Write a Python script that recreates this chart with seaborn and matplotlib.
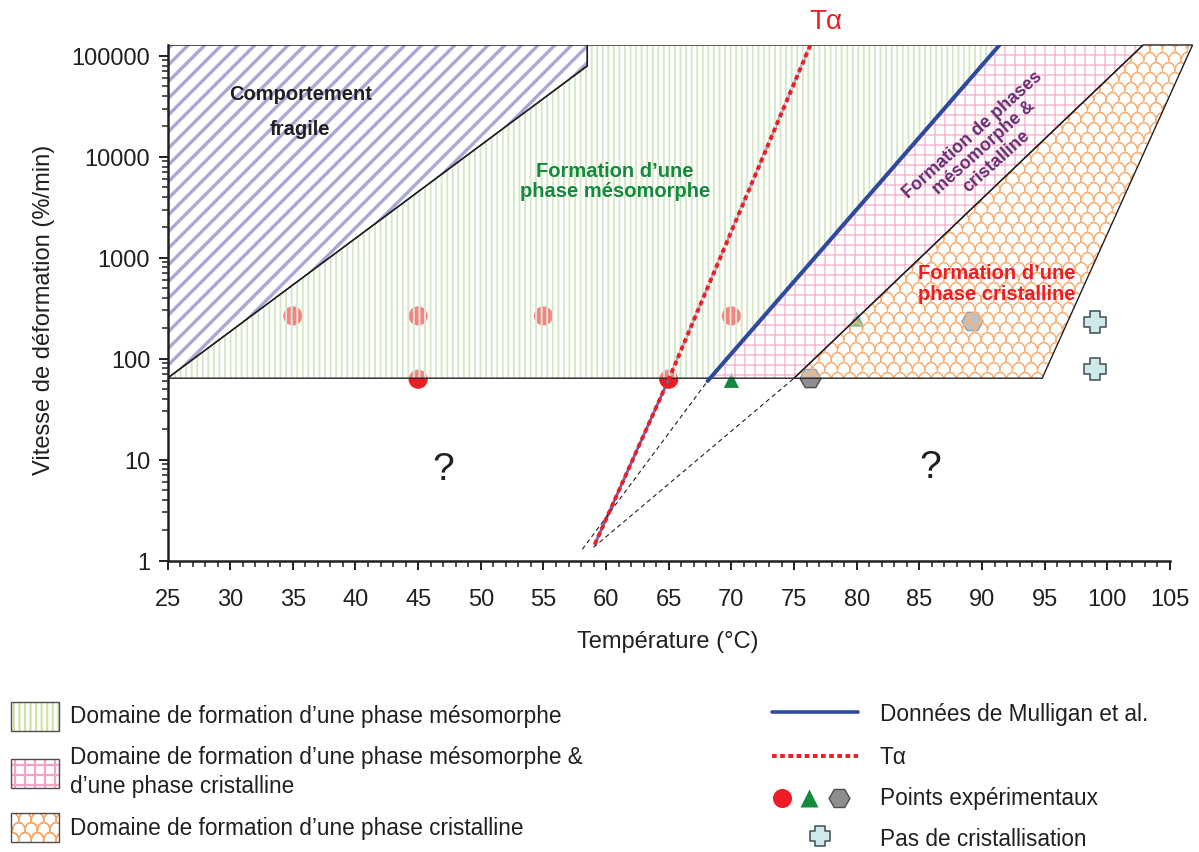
import warnings

import numpy as np
import pandas as pd
import matplotlib
matplotlib.use("Agg")
import matplotlib.pyplot as plt
import matplotlib.hatch as mhatch
from matplotlib.path import Path
from matplotlib.patches import Polygon
from matplotlib.lines import Line2D
from matplotlib.ticker import MultipleLocator, FixedLocator, FixedFormatter, LogLocator, NullFormatter
import seaborn as sns

warnings.filterwarnings("ignore", category=matplotlib.MatplotlibDeprecationWarning)

# ---------------------------------------------------------------- data
T_LIMITS = [25, 105]
RATE_LIMITS = [1, 1.28e5]
X_TICKS = list(range(25, 106, 5))
Y_TICKS = [1, 10, 100, 1000, 10000, 100000]
Y_TICK_LABELS = ["1", "10", "100", "1000", "10000", "100000"]

RATE_FLOOR = 64          # lower limit of the explored domains
RATE_CEIL = 1.28e5       # upper limit of the explored domains

BRITTLE_T = [25.0, 58.5]          # brittle / ductile boundary
BRITTLE_RATE = [64, 79500]

MULLIGAN_T = [68.1, 91.4]         # Mulligan et al. data
MULLIGAN_RATE = [60, 1.28e5]

TALPHA_T = [59.1, 65.0, 76.3]     # T alpha transition
TALPHA_RATE = [1.45, 62.5, 1.28e5]

CRYST_LEFT_T = [75.0, 102.85]     # crystalline domain, left edge (floor, ceiling)
CRYST_RIGHT_T = [94.8, 106.8]     # crystalline domain, right edge (floor, ceiling)

EXTRAP_A_T = [58.1, 68.1]         # extrapolations below the floor
EXTRAP_A_RATE = [1.29, 60]
EXTRAP_B_T = [59.0, 75.0]
EXTRAP_B_RATE = [1.35, 64]

CIRCLE_T = [35, 45, 55, 70, 45, 65]
CIRCLE_RATE = [265, 265, 265, 265, 62.5, 62.5]
TRIANGLE_T = [70, 80]
TRIANGLE_RATE = [61, 246]
HEXAGON_T = [76.3, 89.2]
HEXAGON_RATE = [64, 235]
NOCRYST_T = [99, 99]
NOCRYST_RATE = [230, 78.5]

# ---------------------------------------------------------------- styles
INK = "#231F20"
RED = "#EE1C25"
GREEN_TXT = "#138A3E"
PURPLE_TXT = "#6B2C74"
BLUE = "#2E4A9E"
LAVENDER = "#A9A7D6"
GREEN_HATCH = "#D6E8C6"
PINK_HATCH = "#F6B3CF"
ORANGE_HATCH = "#F9B27A"
FONT = ["Liberation Sans", "DejaVu Sans"]


# ---------------------------------------------------------------- custom fill patterns
class GridHatch(mhatch.HatchPatternBase):
    """Square grid, 10 lines per hatch unit for every 'g'."""

    def __init__(self, hatch, density):
        self.num_lines = hatch.count("g") * 10
        self.num_vertices = self.num_lines * 4

    def set_vertices_and_codes(self, vertices, codes):
        n = self.num_lines
        steps = (np.arange(n) + 0.5) / n
        vertices[0:2 * n:2, 0] = 0.0
        vertices[0:2 * n:2, 1] = steps
        vertices[1:2 * n:2, 0] = 1.0
        vertices[1:2 * n:2, 1] = steps
        vertices[2 * n::2, 0] = steps
        vertices[2 * n::2, 1] = 0.0
        vertices[2 * n + 1::2, 0] = steps
        vertices[2 * n + 1::2, 1] = 1.0
        codes[0::2] = Path.MOVETO
        codes[1::2] = Path.LINETO


class ScaleHatch(mhatch.HatchPatternBase):
    """Offset rows of small open arcs (fish-scale look), one set per 'w'."""
    seg = 9

    def __init__(self, hatch, density):
        k = hatch.count("w")
        self.cols = 8 * k
        self.rows = 10 * k
        self.num_arcs = (self.rows + 1) * (self.cols + 2) if k else 0
        # each arc is traced forth and back so that it encloses no area
        self.num_vertices = self.num_arcs * self.seg * 2

    def set_vertices_and_codes(self, vertices, codes):
        theta = np.linspace(0, np.pi, self.seg)
        arc = np.column_stack([0.5 / self.cols * np.cos(theta),
                               0.75 / self.rows * np.sin(theta)])
        arc = np.concatenate([arc, arc[::-1]])
        n = len(arc)
        arc_codes = np.full(n, Path.LINETO, dtype=Path.code_type)
        arc_codes[0] = Path.MOVETO
        i = 0
        for r in range(self.rows + 1):
            shift = 0.5 * (r % 2)
            for j in range(-1, self.cols + 1):
                vertices[i:i + n] = arc + [(j + shift) / self.cols, r / self.rows]
                codes[i:i + n] = arc_codes
                i += n


mhatch._hatch_types.extend([GridHatch, ScaleHatch])

# ---------------------------------------------------------------- theme
sns.set_theme(style="white")
plt.rcParams["font.family"] = FONT
plt.rcParams["axes.unicode_minus"] = False

W, H = 1199, 853
fig = plt.figure(figsize=(W / 100, H / 100), dpi=100)
ax = fig.add_axes([167.5 / W, 1 - 561.5 / H, (1170 - 167.5) / W, (561.5 - 46) / H])
ax.set_yscale("log")
ax.set_xlim(*T_LIMITS)
ax.set_ylim(*RATE_LIMITS)
ax.set_facecolor("white")


def hatched_patch(target, verts, hatch, color, hlw, face=(1, 1, 1, 0.45), clip=True, z=3):
    with plt.rc_context({"hatch.linewidth": hlw}):
        p = Polygon(verts, closed=True, facecolor=face, edgecolor=color, linewidth=0,
                    hatch=hatch, zorder=z, clip_on=clip)
    if hasattr(p, "set_hatch_linewidth"):
        p.set_hatch_linewidth(hlw)
    target.add_patch(p)
    return p


def outline(target, verts, lw=1.0, color=INK, clip=True, z=4):
    p = Polygon(verts, closed=True, fill=False, edgecolor=color, linewidth=lw,
                zorder=z, clip_on=clip, joinstyle="miter")
    target.add_patch(p)


# ---------------------------------------------------------------- experimental points (under the domains)
sns.scatterplot(x=CIRCLE_T, y=CIRCLE_RATE, ax=ax, marker="o", s=190, color=RED,
                edgecolor="none", linewidth=0, zorder=2, legend=False)
sns.scatterplot(x=TRIANGLE_T, y=TRIANGLE_RATE, ax=ax, marker="^", s=120, color=GREEN_TXT,
                edgecolor="none", linewidth=0, zorder=2, legend=False)
sns.scatterplot(x=HEXAGON_T, y=HEXAGON_RATE, ax=ax, marker="H", s=230, color="#8E8E90",
                edgecolor="#4D4D4F", linewidth=1.0, zorder=2, legend=False)

c, o = 0.26, 0.5
PLUS = Path([(-c, -o), (c, -o), (c, -c), (o, -c), (o, c), (c, c), (c, o), (-c, o),
             (-c, c), (-o, c), (-o, -c), (-c, -c), (-c, -o)], closed=True)
sns.scatterplot(x=NOCRYST_T, y=NOCRYST_RATE, ax=ax, marker=PLUS, s=230, color="#CFE8EA",
                edgecolor="#4A5860", linewidth=1.2, zorder=6, legend=False)

# Tα base trace (drawn under the domain overlay)
sns.lineplot(x=TALPHA_T, y=TALPHA_RATE, ax=ax, color="#7B5EA7", lw=2.0, zorder=2,
             sort=False, estimator=None)

# ---------------------------------------------------------------- domains
mull_floor_T = np.interp(np.log10(RATE_FLOOR), np.log10(MULLIGAN_RATE), MULLIGAN_T)

brittle = [(BRITTLE_T[0], BRITTLE_RATE[0]), (BRITTLE_T[1], BRITTLE_RATE[1]),
           (BRITTLE_T[1], RATE_CEIL), (BRITTLE_T[0], RATE_CEIL)]
meso = [(BRITTLE_T[0], RATE_FLOOR), (BRITTLE_T[1], BRITTLE_RATE[1]), (BRITTLE_T[1], RATE_CEIL),
        (MULLIGAN_T[1], RATE_CEIL), (mull_floor_T, RATE_FLOOR)]
mixed = [(mull_floor_T, RATE_FLOOR), (MULLIGAN_T[1], RATE_CEIL),
         (CRYST_LEFT_T[1], RATE_CEIL), (CRYST_LEFT_T[0], RATE_FLOOR)]
cryst = [(CRYST_LEFT_T[0], RATE_FLOOR), (CRYST_LEFT_T[1], RATE_CEIL),
         (CRYST_RIGHT_T[1], RATE_CEIL), (CRYST_RIGHT_T[0], RATE_FLOOR)]

hatched_patch(ax, meso, "|||", GREEN_HATCH, 1.4)
hatched_patch(ax, brittle, "//", LAVENDER, 2.4, face=(1, 1, 1, 1))
hatched_patch(ax, mixed, "g", PINK_HATCH, 1.0)
hatched_patch(ax, cryst, "w", ORANGE_HATCH, 0.8, clip=False)

outline(ax, brittle, lw=1.1)
outline(ax, meso, lw=1.0)
outline(ax, mixed, lw=1.0)
outline(ax, cryst, lw=1.0, clip=False)

# ---------------------------------------------------------------- lines
sns.lineplot(x=EXTRAP_A_T, y=EXTRAP_A_RATE, ax=ax, color=INK, lw=0.8, zorder=5,
             linestyle=(0, (4, 3)), sort=False, estimator=None)
sns.lineplot(x=EXTRAP_B_T, y=EXTRAP_B_RATE, ax=ax, color=INK, lw=0.8, zorder=5,
             linestyle=(0, (4, 3)), sort=False, estimator=None)
sns.lineplot(x=MULLIGAN_T, y=MULLIGAN_RATE, ax=ax, color=BLUE, lw=2.9, zorder=5,
             sort=False, estimator=None)
sns.lineplot(x=TALPHA_T, y=TALPHA_RATE, ax=ax, color=RED, lw=2.8, zorder=5,
             linestyle=(0, (1.2, 0.9)), sort=False, estimator=None)

# ---------------------------------------------------------------- annotations
bold = dict(fontweight="bold", ha="center", va="center", zorder=7)
ax.text(35.6, 4.2e4, "Comportement", color=INK, fontsize=14.5, **bold)
ax.text(35.6, 1.9e4, "fragile", color=INK, fontsize=14.5, **bold)
ax.text(60.7, 5.8e3, "Formation d’une\nphase mésomorphe", color=GREEN_TXT, fontsize=14.5,
        linespacing=1.1, **bold)
ax.text(91.2, 560, "Formation d’une\nphase cristalline", color=RED, fontsize=14.5,
        linespacing=1.1, **bold)
ax.text(90.2, 1.25e4, "Formation de phases\nmésomorphe &\ncristalline", color=PURPLE_TXT,
        fontsize=13, rotation=42, rotation_mode="anchor", multialignment="center",
        linespacing=1.05, **bold)
ax.text(47.0, 8.0, "?", color=INK, fontsize=28, ha="center", va="center", zorder=7)
ax.text(85.9, 8.4, "?", color=INK, fontsize=28, ha="center", va="center", zorder=7)
ax.text(77.5, 2.2e5, "Tα", color=RED, fontsize=20, ha="center", va="center", clip_on=False)

# ---------------------------------------------------------------- axes
for side in ("top", "right"):
    ax.spines[side].set_visible(False)
for side in ("left", "bottom"):
    ax.spines[side].set_color(INK)
    ax.spines[side].set_linewidth(1.8)
    ax.spines[side].set_zorder(10)

ax.xaxis.set_major_locator(FixedLocator(X_TICKS))
ax.xaxis.set_minor_locator(MultipleLocator(1))
ax.yaxis.set_major_locator(FixedLocator(Y_TICKS))
ax.yaxis.set_major_formatter(FixedFormatter(Y_TICK_LABELS))
ax.yaxis.set_minor_locator(LogLocator(base=10, subs=np.arange(2, 10)))
ax.yaxis.set_minor_formatter(NullFormatter())
ax.tick_params(which="both", direction="out", color=INK, labelcolor=INK, bottom=True, left=True)
ax.tick_params(which="major", length=6.5, width=1.4, labelsize=17)
ax.tick_params(which="minor", length=4.0, width=1.1)
ax.tick_params(axis="x", which="major", pad=13)
ax.tick_params(axis="y", which="major", pad=6)

ax.set_xlabel("Température (°C)", fontsize=17, color=INK)
ax.set_ylabel("Vitesse de déformation (%/min)", fontsize=17, color=INK)
ax.xaxis.set_label_coords(0.499, -0.135)
ax.yaxis.set_label_coords(-0.112, 0.488)

# ---------------------------------------------------------------- legend (figure pixel frame)
lax = fig.add_axes([0, 0, 1, 1])
lax.set_xlim(0, W)
lax.set_ylim(H, 0)
lax.axis("off")
LEG_FS = 16.3

keys = [((11, 703, 47.5, 29), "|||", "#CFE3A8", 1.6),
        ((11, 760, 47.5, 29), "g", "#F4A3C6", 1.6),
        ((11, 813.5, 47.5, 29), "w", "#F8A868", 1.0)]
for (x0, y0, w, h), hatch, col, hlw in keys:
    verts = [(x0, y0), (x0 + w, y0), (x0 + w, y0 + h), (x0, y0 + h)]
    hatched_patch(lax, verts, hatch, col, hlw, face="white", z=2)
    outline(lax, verts, lw=1.0, color="#4D4D4F", z=3)

txt = dict(fontsize=LEG_FS, color=INK, va="center", ha="left")
lax.text(70.5, 716, "Domaine de formation d’une phase mésomorphe", **txt)
lax.text(70.5, 772, "Domaine de formation d’une phase mésomorphe &\nd’une phase cristalline",
         linespacing=1.3, **txt)
lax.text(70.5, 829, "Domaine de formation d’une phase cristalline", **txt)

lax.add_line(Line2D([772, 858], [713, 713], color=BLUE, lw=2.6))
lax.add_line(Line2D([772, 858], [757, 757], color=RED, lw=2.8, linestyle=(0, (1.2, 0.9))))
lax.plot([781.5], [799], marker="o", ms=13.7, color=RED, mec="none")
lax.plot([809], [799], marker="^", ms=12.5, color=GREEN_TXT, mec="none")
lax.plot([839], [799], marker="H", ms=15, color="#8E8E90", mec="#4D4D4F", mew=1.0)
lax.plot([820], [837], marker=PLUS, ms=15, color="#CFE8EA", mec="#4A5860", mew=1.2)

lax.text(880, 715, "Données de Mulligan et al.", **txt)
lax.text(880, 758, "Tα", **txt)
lax.text(880, 799, "Points expérimentaux", **txt)
lax.text(880, 840, "Pas de cristallisation", **txt)

fig.savefig("out.png", dpi=100, facecolor="white")
